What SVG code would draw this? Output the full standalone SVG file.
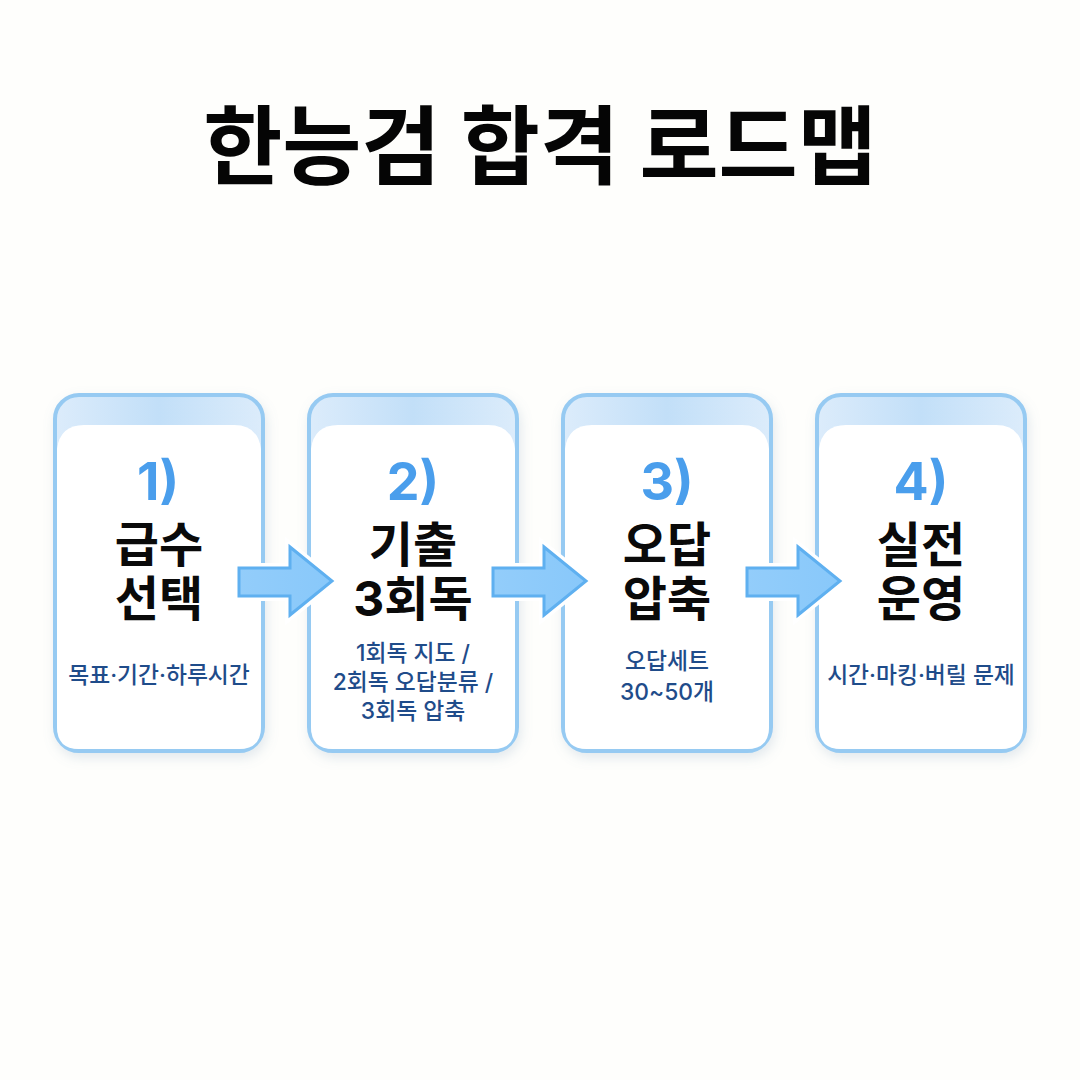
<svg xmlns="http://www.w3.org/2000/svg" width="1080" height="1080" viewBox="0 0 1080 1080">
<style>
text{font-family:"Inter","Noto Sans CJK KR","Noto Sans",sans-serif;text-anchor:middle}
.title{font-size:86px;font-weight:700;fill:#050505}
.num{font-size:52px;font-weight:700;fill:#4a9eec}
.head{font-size:48px;font-weight:700;fill:#0a0a0a}
.sub{font-size:22.8px;font-weight:500;fill:#1f4c8a}
.frame{fill:url(#band);stroke:#96caf2;stroke-width:4;filter:url(#shadow)}
.inner{fill:#fff}
.arrow{fill:url(#arrowfill);stroke:#5fb0f0;stroke-width:3;stroke-linejoin:miter}
.halo{fill:none;stroke:#fff;stroke-width:10;stroke-linejoin:miter}
</style>
<defs>
<linearGradient id="band" x1="0" y1="0" x2="1" y2="0">
<stop offset="0" stop-color="#dcecfb"/><stop offset="0.5" stop-color="#c2dff8"/><stop offset="1" stop-color="#dcecfb"/>
</linearGradient>
<linearGradient id="arrowfill" x1="0" y1="0" x2="1" y2="0">
<stop offset="0" stop-color="#93cdfa"/><stop offset="1" stop-color="#88c8fa"/>
</linearGradient>
<filter id="shadow" x="-15%" y="-10%" width="130%" height="125%">
<feDropShadow dx="2" dy="5" stdDeviation="6" flood-color="#7f9cb8" flood-opacity="0.22"/>
</filter>
<path id="arr" d="M239 568H290V547L332 581L290 615V596H239Z"/>
</defs>
<rect width="1080" height="1080" fill="#fefefc"/>
<text class="title" x="540" y="178" id="title">한능검 합격 로드맵</text>
<g id="node1">
<rect class="frame" x="55" y="395" width="208" height="356" rx="24"/>
<path class="inner" d="M57 449Q60 425 84 425H234Q258 425 261 449V727Q261 749 239 749H79Q57 749 57 727Z"/>
<text class="num" x="158" y="500">1)</text>
<text class="head" x="159" y="562">급수</text>
<text class="head" x="159" y="616">선택</text>
<text class="sub" x="159" y="683">목표·기간·하루시간</text>
</g>
<g id="node2">
<rect class="frame" x="309" y="395" width="208" height="356" rx="24"/>
<path class="inner" d="M311 449Q314 425 338 425H488Q512 425 515 449V727Q515 749 493 749H333Q311 749 311 727Z"/>
<text class="num" x="413" y="500">2)</text>
<text class="head" x="413" y="562">기출</text>
<text class="head" x="413" y="616">3회독</text>
<text class="sub" x="413" y="661">1회독 지도 /</text>
<text class="sub" x="413" y="690">2회독 오답분류 /</text>
<text class="sub" x="413" y="719">3회독 압축</text>
</g>
<g id="node3">
<rect class="frame" x="563" y="395" width="208" height="356" rx="24"/>
<path class="inner" d="M565 449Q568 425 592 425H742Q766 425 769 449V727Q769 749 747 749H587Q565 749 565 727Z"/>
<text class="num" x="667" y="500">3)</text>
<text class="head" x="667" y="562">오답</text>
<text class="head" x="667" y="616">압축</text>
<text class="sub" x="667" y="669">오답세트</text>
<text class="sub" x="667" y="700">30~50개</text>
</g>
<g id="node4">
<rect class="frame" x="817" y="395" width="208" height="356" rx="24"/>
<path class="inner" d="M819 449Q822 425 846 425H996Q1020 425 1023 449V727Q1023 749 1001 749H841Q819 749 819 727Z"/>
<text class="num" x="921" y="500">4)</text>
<text class="head" x="921" y="562">실전</text>
<text class="head" x="921" y="616">운영</text>
<text class="sub" x="921" y="683">시간·마킹·버릴 문제</text>
</g>
<g id="connectors">
<use href="#arr" class="halo"/><use href="#arr" class="arrow"/>
<use href="#arr" class="halo" x="254"/><use href="#arr" class="arrow" x="254"/>
<use href="#arr" class="halo" x="508"/><use href="#arr" class="arrow" x="508"/>
</g>
</svg>
